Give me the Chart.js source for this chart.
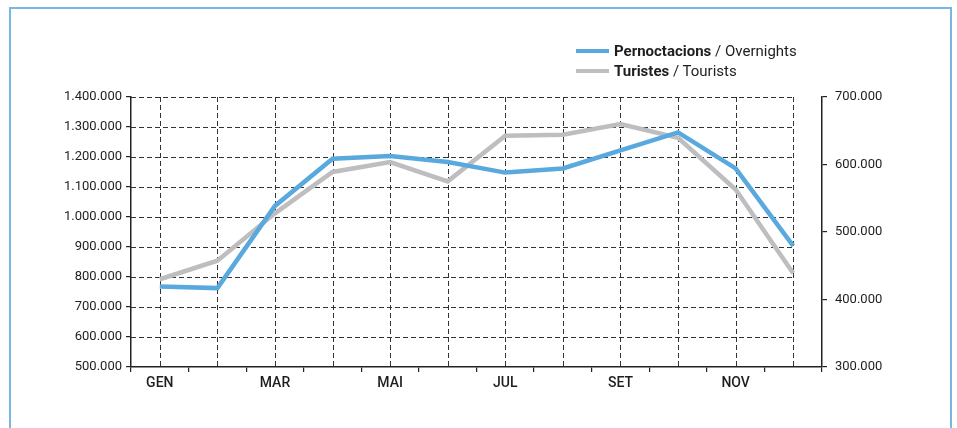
<!DOCTYPE html>
<html>
<head>
<meta charset="utf-8">
<script src="https://cdn.jsdelivr.net/npm/chart.js@4/dist/chart.umd.min.js"></script>
<style>
  html, body { margin: 0; padding: 0; background: #fff; overflow: hidden; }
  #wrap { position: relative; width: 957px; height: 428px; }
  #c { position: absolute; left: 0; top: 0; }
  #frame { position: absolute; left: 9px; top: 7px; width: 943px; height: 440px; border: 2px solid #7ab6e3; box-sizing: border-box; pointer-events: none; }
  .leg { position: absolute; left: 576px; font-family: Roboto, 'Liberation Sans', sans-serif; font-size: 15px; color: #1e1e1e; white-space: nowrap; line-height: 18px; }
  .leg .sw { display: inline-block; width: 33px; height: 4px; vertical-align: middle; margin-right: 5px; position: relative; top: -1px; }
  .leg b { font-weight: bold; }
</style>
</head>
<body>
<div id="wrap">
  <canvas id="c" width="957" height="428"></canvas>
  <div id="frame"></div>
  <div class="leg" id="leg1" style="top:42px;"><span class="sw" style="background:#5aa9de"></span><b>Pernoctacions</b> / Overnights</div>
  <div class="leg" id="leg2" style="top:62px;"><span class="sw" style="background:#bebec1"></span><b>Turistes</b> / Tourists</div>
</div>
<script>
// Categories (months, Catalan)
const months = ['GEN', 'FEB', 'MAR', 'ABR', 'MAI', 'JUN', 'JUL', 'AGO', 'SET', 'OCT', 'NOV', 'DES'];
// Pernoctacions / Overnights (left axis)
const pernoctacions = [768000, 763000, 1037000, 1194000, 1203000, 1183000, 1148000, 1162000, 1222000, 1282000, 1162000, 904000];
// Turistes / Tourists (right axis)
const turistes = [430000, 457500, 527700, 588900, 603700, 575000, 642700, 644000, 660000, 639700, 563000, 439000];
// Axis ranges
const leftMin = 500000, leftMax = 1400000, leftStep = 100000;
const rightMin = 300000, rightMax = 700000, rightStep = 100000;

function fmt(v) { return String(v).replace(/\B(?=(\d{3})+(?!\d))/g, '.'); }

const gridPlugin = {
  id: 'dashGrid',
  beforeDatasetsDraw(chart) {
    const { ctx, chartArea: a, scales: { x, y } } = chart;
    ctx.save();
    ctx.setLineDash([5, 3]);
    ctx.strokeStyle = '#333';
    ctx.lineWidth = 1;
    const xEnd = x.getPixelForValue(months.length - 1);
    y.ticks.forEach(t => {
      if (t.value === y.min) return;
      const py = Math.round(y.getPixelForValue(t.value)) + 0.5;
      ctx.beginPath(); ctx.moveTo(a.left, py); ctx.lineTo(xEnd, py); ctx.stroke();
    });
    months.forEach((m, i) => {
      const px = Math.round(x.getPixelForValue(i)) + 0.5;
      ctx.beginPath(); ctx.moveTo(px, a.top); ctx.lineTo(px, a.bottom); ctx.stroke();
    });
    ctx.restore();
  }
};

const numFont = { family: "Roboto, 'Liberation Sans', sans-serif", size: 13 };

new Chart(document.getElementById('c'), {
  type: 'line',
  data: {
    labels: months,
    datasets: [
      { label: 'Pernoctacions / Overnights', data: pernoctacions, yAxisID: 'y', borderColor: '#5aa9de', borderWidth: 4.5, pointRadius: 0, tension: 0, fill: false },
      { label: 'Turistes / Tourists', data: turistes, yAxisID: 'y2', borderColor: '#bebec1', borderWidth: 4.5, pointRadius: 0, tension: 0, fill: false }
    ]
  },
  options: {
    responsive: false,
    animation: false,
    layout: { padding: { top: 97, left: 0, right: 0, bottom: 0 } },
    plugins: { legend: { display: false }, tooltip: { enabled: false } },
    scales: {
      x: {
        type: 'category',
        offset: true,
        grid: { offset: true, drawOnChartArea: false, drawTicks: true, tickLength: 5, color: '#222', lineWidth: 1.2 },
        border: { display: true, color: '#222', width: 1.5 },
        ticks: {
          autoSkip: false, maxRotation: 0, padding: 3, color: '#1e1e1e',
          font: { family: "Roboto, 'Liberation Sans', sans-serif", size: 14, weight: '500' },
          callback: function (v, i) { return i % 2 === 0 ? months[i] : ''; }
        },
        afterFit: s => { s.height = 61; }
      },
      y: {
        position: 'left',
        min: leftMin, max: leftMax,
        grid: { drawOnChartArea: false, drawTicks: true, tickLength: 5, color: '#222', lineWidth: 1.2 },
        border: { display: true, color: '#222', width: 1.5 },
        ticks: { stepSize: leftStep, padding: 4, color: '#1e1e1e', font: numFont, callback: v => fmt(v) },
        afterFit: s => { s.width = 131; }
      },
      y2: {
        position: 'right',
        min: rightMin, max: rightMax,
        grid: { drawOnChartArea: false, drawTicks: true, tickLength: 5, color: '#222', lineWidth: 1.2 },
        border: { display: true, color: '#222', width: 1.5 },
        ticks: { stepSize: rightStep, padding: 8, color: '#1e1e1e', font: numFont, callback: v => fmt(v) },
        afterFit: s => { s.width = 135; }
      }
    }
  },
  plugins: [gridPlugin]
});
</script>
</body>
</html>
